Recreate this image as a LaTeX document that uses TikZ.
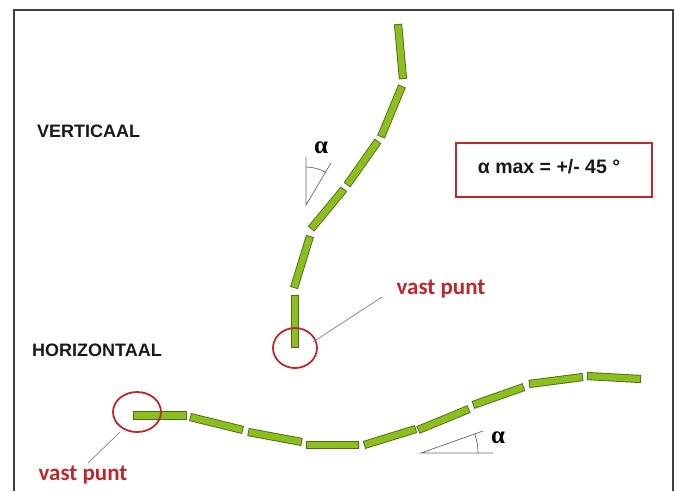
\documentclass[tikz,border=0pt]{standalone}
\usepackage{fontspec}
\setmainfont{Liberation Sans}
\newfontfamily\carl{Carlito}
\newfontfamily\serifa{Liberation Serif}
\definecolor{barg}{HTML}{8CBF1E}
\definecolor{baro}{HTML}{4E6B1C}
\definecolor{vred}{HTML}{C0272D}
\definecolor{frm}{HTML}{404040}
\tikzset{
  barout/.style={line width=8.2pt, draw=baro},
  barin/.style={line width=6.4pt, draw=barg, shorten >=0.9pt, shorten <=0.9pt},
  ring/.style={draw=vred, line width=1.8pt},
  leader/.style={draw=gray, line width=0.7pt},
  angl/.style={draw=gray!80!black, line width=0.7pt},
  lbl/.style={inner sep=0pt, anchor=west, text=black!90, font=\bfseries\fontsize{18}{20}\selectfont},
  redlbl/.style={inner sep=0pt, text=vred, font=\carl\bfseries\fontsize{23}{25}\selectfont},
  alab/.style={inner sep=0pt, font=\serifa\bfseries\fontsize{25}{27}\selectfont},
  maxbox/.style={draw=vred, line width=1.8pt, minimum width=196pt, minimum height=54pt, inner sep=0pt}
}
\begin{document}
\begin{tikzpicture}[x=1pt,y=-1pt]
\useasboundingbox (0,0) rectangle (676,491);
\fill[white] (0,0) rectangle (676,491);
% frame
\draw[frm, line width=1.3pt] (14,491) -- (14,10) -- (673,10) -- (673,491);
% chains of bars
\foreach \xa/\ya/\xb/\yb in {398/24/403/79, 402/86/381/137, 378/141/347/185, 344/189/311/229, 310/236/294/288, 295/295/295/348,
  133/415.5/187/415.5, 190/417/243/430, 248/432/302/442, 306/445/359/445, 364/445/416/429, 418/430/469/409, 473/405/524/387, 529/384/583/377, 587/376/641/379}{
  \draw[barout] (\xa,\ya) -- (\xb,\yb);
  \draw[barin] (\xa,\ya) -- (\xb,\yb);
}
% fixed points
\draw[ring] (295,348) ellipse [x radius=22, y radius=20];
\draw[ring] (137,412) ellipse [x radius=24, y radius=20];
\node[redlbl] (vp1) at (441,289) {vast punt};
\node[redlbl] (vp2) at (83,475) {vast punt};
\coordinate (l1a) at (313,342);
\coordinate (l1b) at (382,297);
\coordinate (l2a) at (120,432);
\coordinate (l2b) at (88,463);
\draw[leader] (l1a) -- (l1b);
\draw[leader] (l2a) -- (l2b);
% labels
\node[lbl] (vert) at (37,131) {VERTICAAL};
\node[lbl] (hor) at (32,350) {HORIZONTAAL};
% box
\node[maxbox] (box) at (554,170) {};
\node[inner sep=0pt, text=black!90, font=\bfseries\fontsize{19.5}{21}\selectfont] (boxt) at (549,167) {α max = +/- 45 °};
% angle indicator vertical
\coordinate (va) at (306,205);
\draw[angl] (306,157) -- (va) -- (331,163);
\draw[angl] (va) ++(-90:38) arc[start angle=-90, end angle=-59, radius=38];
\node[alab] (al1) at (321,148) {α};
% angle indicator horizontal
\coordinate (ha) at (421,453);
\draw[angl] (493,453) -- (ha) -- (483,431);
\draw[angl] (ha) ++(0:57) arc[start angle=0, end angle=-19.5, radius=57];
\node[alab] (al2) at (498,438) {α};
\end{tikzpicture}
\end{document}
